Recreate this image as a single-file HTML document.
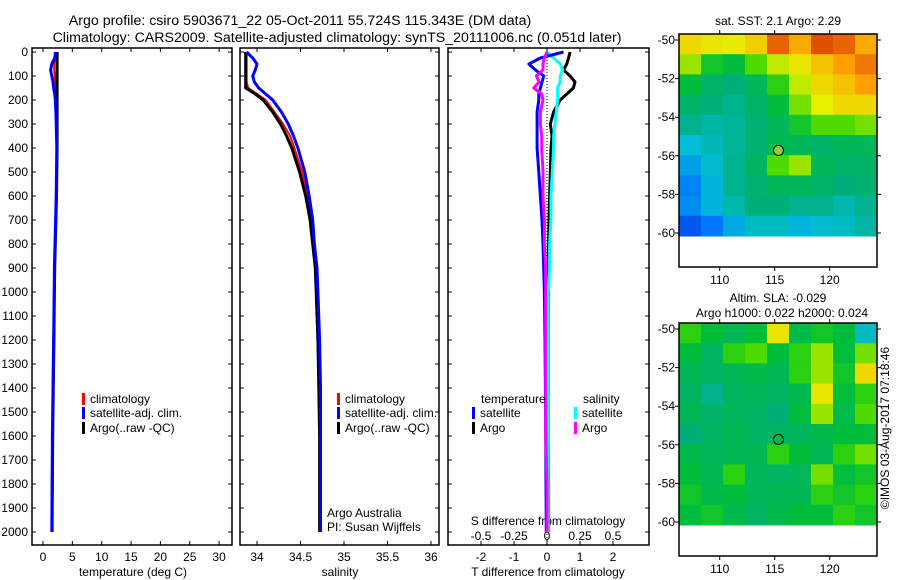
<!DOCTYPE html>
<html><head><meta charset="utf-8"><style>
html,body{margin:0;padding:0;background:#fff;}
svg{display:block;font-family:"Liberation Sans",sans-serif;}
</style></head><body>
<svg id="fig" xmlns="http://www.w3.org/2000/svg" width="900" height="580" viewBox="0 0 900 580">
<text x="300" y="25" font-size="14.2" text-anchor="middle">Argo profile: csiro 5903671_22 05-Oct-2011 55.724S 115.343E (DM data)</text>
<text x="337" y="42" font-size="14.2" text-anchor="middle">Climatology: CARS2009. Satellite-adjusted climatology: synTS_20111006.nc (0.051d later)</text>
<text x="778" y="25" font-size="12" text-anchor="middle">sat. SST: 2.1 Argo: 2.29</text>
<text x="778" y="302" font-size="12" text-anchor="middle">Altim. SLA: -0.029</text>
<text x="782" y="317" font-size="12" text-anchor="middle">Argo h1000: 0.022 h2000: 0.024</text>
<text x="0" y="0" font-size="12" text-anchor="middle" transform="translate(889,428) rotate(-90)">©IMOS 03-Aug-2017 07:18:46</text>
<text x="133" y="576" font-size="12" text-anchor="middle">temperature (deg C)</text>
<text x="340" y="576" font-size="12" text-anchor="middle">salinity</text>
<text x="548" y="576" font-size="12" text-anchor="middle">T difference from climatology</text>
<text x="548" y="525" font-size="12" text-anchor="middle">S difference from climatology</text>
<text x="327" y="517" font-size="12">Argo Australia</text>
<text x="327" y="531" font-size="12">PI: Susan Wijffels</text>
</svg>
<script>
// ---- data ----
const depths=[0,25,50,75,100,125,150,175,200,250,300,350,400,500,600,700,800,900,1000,1200,1400,1600,1800,2000];
const tempClim=[2.0,2.0,1.9,1.9,2.0,2.1,2.2,2.2,2.3,2.3,2.3,2.35,2.4,2.35,2.3,2.2,2.1,2.0,1.95,1.85,1.75,1.65,1.55,1.5];
const tempSat=[2.2,2.0,1.5,1.3,1.5,1.7,1.8,2.0,2.1,2.2,2.25,2.3,2.35,2.3,2.25,2.15,2.05,1.95,1.9,1.8,1.7,1.6,1.55,1.5];
const tempArgo=[2.4,2.4,2.4,2.4,2.4,2.4,2.4,2.4,2.4,2.4,2.4,2.4,2.4,2.35,2.3,2.2,2.1,2.0,1.95,1.85,1.75,1.65,1.6,1.55];
const salClim=[33.88,33.88,33.88,33.88,33.88,33.88,33.9,34.0,34.1,34.2,34.3,34.38,34.43,34.52,34.58,34.62,34.65,34.68,34.69,34.71,34.72,34.72,34.72,34.72];
const salSat=[33.88,33.95,34.0,33.98,33.95,33.97,34.02,34.1,34.18,34.28,34.36,34.42,34.47,34.55,34.6,34.64,34.66,34.69,34.7,34.72,34.73,34.73,34.73,34.73];
const salArgo=[33.87,33.87,33.87,33.87,33.87,33.87,33.87,33.98,34.07,34.18,34.27,34.34,34.4,34.49,34.56,34.61,34.64,34.67,34.68,34.7,34.71,34.72,34.72,34.72];
const tDiffSat=[0.5,-0.2,-0.55,-0.35,-0.1,-0.15,-0.2,-0.25,-0.25,-0.3,-0.3,-0.3,-0.3,-0.25,-0.2,-0.15,-0.12,-0.1,-0.08,-0.06,-0.05,-0.04,-0.03,-0.02];
const tDiffArgo=[0.7,0.65,0.6,0.5,0.7,0.85,0.8,0.6,0.4,0.2,0.1,0.15,0.12,0.1,0.08,0.06,0.05,0.05,0.05,0.04,0.04,0.04,0.05,0.05];
const sDiffSat=[0.0,0.05,0.1,0.12,0.1,0.1,0.08,0.08,0.08,0.07,0.06,0.05,0.05,0.04,0.03,0.03,0.02,0.02,0.01,0.01,0.01,0.01,0.01,0.01];
const sDiffArgo=[0.0,-0.02,-0.03,-0.03,-0.08,-0.06,-0.1,-0.04,-0.03,-0.05,-0.05,-0.04,-0.04,-0.03,-0.03,-0.02,-0.02,-0.01,-0.01,-0.01,-0.01,-0.01,0,0];
const depthTicks=[0,100,200,300,400,500,600,700,800,900,1000,1100,1200,1300,1400,1500,1600,1700,1800,1900,2000];
const tempTicks=[0,5,10,15,20,25,30];
const salTicks=[34,34.5,35,35.5,36];
const salTickLabels=["34","34.5","35","35.5","36"];
const tDiffTicks=[-2,-1,0,1,2];
const sDiffTicks=[-0.5,-0.25,0,0.25,0.5];
const sDiffTickLabels=["-0.5","-0.25","0","0.25","0.5"];
const lonTicks=[110,115,120];
const latTicks=[-50,-52,-54,-56,-58,-60];
const argoLon=115.34, argoLat=-55.72;
const sstGrid=[
[0.70,0.68,0.67,0.72,0.86,0.78,0.88,0.86,0.78],
[0.62,0.52,0.50,0.58,0.64,0.68,0.74,0.80,0.84],
[0.50,0.44,0.42,0.46,0.55,0.64,0.70,0.74,0.80],
[0.44,0.42,0.40,0.44,0.50,0.60,0.66,0.70,0.70],
[0.40,0.38,0.39,0.43,0.46,0.52,0.58,0.58,0.60],
[0.33,0.36,0.39,0.43,0.47,0.46,0.44,0.46,0.46],
[0.30,0.34,0.40,0.45,0.58,0.62,0.46,0.44,0.44],
[0.27,0.32,0.40,0.43,0.46,0.46,0.44,0.42,0.43],
[0.28,0.32,0.37,0.42,0.42,0.40,0.40,0.37,0.40],
[0.20,0.26,0.31,0.35,0.35,0.32,0.34,0.35,0.38]];
const slaGrid=[
[0.55,0.50,0.47,0.50,0.68,0.48,0.52,0.50,0.35],
[0.50,0.45,0.55,0.58,0.50,0.55,0.62,0.50,0.60],
[0.47,0.45,0.47,0.48,0.47,0.55,0.62,0.52,0.70],
[0.45,0.40,0.45,0.46,0.45,0.48,0.68,0.50,0.55],
[0.47,0.44,0.46,0.45,0.42,0.50,0.62,0.48,0.58],
[0.42,0.45,0.47,0.45,0.45,0.46,0.48,0.50,0.50],
[0.48,0.46,0.47,0.47,0.55,0.50,0.47,0.55,0.60],
[0.50,0.47,0.55,0.46,0.45,0.46,0.60,0.50,0.52],
[0.52,0.48,0.50,0.46,0.47,0.47,0.55,0.52,0.55],
[0.50,0.52,0.48,0.45,0.48,0.50,0.50,0.55,0.52]];

const NS='http://www.w3.org/2000/svg';
const svg=document.getElementById('fig');
function mk(tag,attrs){const e=document.createElementNS(NS,tag);for(const k in attrs)e.setAttribute(k,attrs[k]);svg.appendChild(e);return e;}

// ---- axes ----
const yD=d=>52+d*0.24;
const PY0=48,PY1=545;
const panels=[{x0:32,x1:232},{x0:240,x1:439},{x0:448,x1:649}];
const xT=v=>43+v*5.87;
const xS=v=>257+(v-34)*87;
const xTD=v=>547+v*33;
const xSD=v=>547+v*132;

panels.forEach((p,i)=>{
  const r=mk('rect',{x:p.x0,y:PY0,width:p.x1-p.x0,height:PY1-PY0,fill:'none',stroke:'#000','stroke-width':1.5});
  
  
  depthTicks.forEach(d=>{
    const y=yD(d);
    const t=mk('path',{d:`M${p.x0},${y}h4M${p.x1},${y}h-4`,stroke:'#000','stroke-width':1});
    
    
  });
});
depthTicks.forEach(d=>{
  const t=mk('text',{x:28,y:yD(d)+4,'font-size':12,'text-anchor':'end'});
  t.textContent=d;
  
  
});
function xTicks(ticks,labels,fx,p,ly,top){
  ticks.forEach((v,i)=>{
    const x=fx(v);
    const t=mk('path',{d:`M${x},${PY1}v-4`+(top?`M${x},${PY0}v4`:''),stroke:'#000','stroke-width':1});
    
    
    const l=mk('text',{x:x,y:ly,'font-size':12,'text-anchor':'middle'});
    l.textContent=labels[i];
    
    
  });
}
xTicks(tempTicks,tempTicks.map(String),xT,panels[0],561,true);
xTicks(salTicks,salTickLabels,xS,panels[1],561,true);
xTicks(tDiffTicks,tDiffTicks.map(String),xTD,panels[2],561,false);
sDiffTicks.forEach((v,i)=>{
  const x=xSD(v);
  const t=mk('path',{d:`M${x},${PY0}v4M${x},${PY1}v-4`,stroke:'#000','stroke-width':1});
  
  
  const l=mk('text',{x:x,y:540,'font-size':12,'text-anchor':'middle'});
  l.textContent=sDiffTickLabels[i];
  
  
});
const zl=mk('line',{x1:xTD(0),x2:xTD(0),y1:PY0,y2:PY1,stroke:'#000','stroke-width':1,'stroke-dasharray':'1,2'});



// ---- series ----
function line(vals,fx,color,w,name){
  const pts=vals.map((v,i)=>fx(v).toFixed(1)+','+yD(depths[i]).toFixed(1)).join(' ');
  const e=mk('polyline',{points:pts,fill:'none',stroke:color,'stroke-width':w,'stroke-linejoin':'round'});
  
  
}
line(tempClim,xT,'#f00',2,'temp-climatology-line');
line(tempArgo,xT,'#000',3,'temp-argo-line');
line(tempSat,xT,'#00f',3,'temp-satellite-line');
line(salClim,xS,'#f00',2,'sal-climatology-line');
line(salArgo,xS,'#000',3,'sal-argo-line');
line(salSat,xS,'#00f',3,'sal-satellite-line');
line(tDiffArgo,xTD,'#000',3,'tdiff-argo-line');
line(sDiffSat,xSD,'#0ff',3,'sdiff-satellite-line');
line(tDiffSat,xTD,'#00f',3,'tdiff-satellite-line');
line(sDiffArgo,xSD,'#f0f',3,'sdiff-argo-line');

// ---- legends ----
function legend(x,y,color,label,name){
  const b=mk('rect',{x:x,y:y-10,width:3,height:12,fill:color});
  
  
  const t=mk('text',{x:x+8,y:y,'font-size':12});
  t.textContent=label;
  
  
}
[[82,'temp'],[337,'sal']].forEach(([x,n])=>{
  legend(x,403,'#f00','climatology',n+'-legend-climatology');
  legend(x,417,'#00f','satellite-adj. clim.',n+'-legend-satellite');
  legend(x,432,'#000','Argo(..raw -QC)',n+'-legend-argo');
});
const lt=mk('text',{x:481,y:403,'font-size':12});
lt.textContent='temperature';


const ls=mk('text',{x:583,y:403,'font-size':12});
ls.textContent='salinity';


legend(472,417,'#00f','satellite','diff-legend-t-satellite');
legend(472,432,'#000','Argo','diff-legend-t-argo');
legend(574,417,'#0ff','satellite','diff-legend-s-satellite');
legend(574,432,'#f0f','Argo','diff-legend-s-argo');

// ---- maps ----
const stops=[[0,[0,0,170]],[0.25,[0,110,255]],[0.33,[0,190,215]],[0.42,[0,175,120]],[0.5,[0,190,60]],[0.57,[60,215,0]],[0.66,[230,240,0]],[0.8,[255,160,0]],[0.9,[215,60,0]],[1,[150,0,0]]];
function cmap(v){
  for(let i=1;i<stops.length;i++){if(v<=stops[i][0]){const a=stops[i-1],b=stops[i],f=(v-a[0])/(b[0]-a[0]);
    return 'rgb('+a[1].map((c,k)=>Math.round(c+(b[1][k]-c)*f)).join(',')+')';}}
  return 'rgb(150,0,0)';
}
function drawMap(grid,top,name,mfill){
  const X0=679,X1=877,lon0=106.3,lon1=124.3;
  const xL=l=>X0+(l-lon0)*(X1-X0)/(lon1-lon0);
  const yL=l=>top+6+(-50-l)*19.3;
  const dataTop=top, dataBot=yL(-60)+3;
  const rows=grid.length, cols=grid[0].length;
  const cw=(X1-X0)/cols, ch=(dataBot-dataTop)/rows;
  grid.forEach((row,r)=>row.forEach((v,c)=>{
    const e=mk('rect',{x:X0+c*cw,y:dataTop+r*ch,width:cw+0.5,height:ch+0.5,fill:cmap(v)});
    
    
  }));
  const f=mk('rect',{x:X0,y:top,width:X1-X0,height:233,fill:'none',stroke:'#000','stroke-width':1.5});
  
  
  latTicks.forEach(l=>{
    const y=yL(l);
    const t=mk('path',{d:`M${X0},${y}h-4M${X1},${y}h4`,stroke:'#000','stroke-width':1});
    
    
    const tx=mk('text',{x:675,y:y+4,'font-size':12,'text-anchor':'end'});
    tx.textContent=l;
    
    
  });
  lonTicks.forEach(l=>{
    const x=xL(l);
    const t=mk('path',{d:`M${x},${top}v-4M${x},${top+233}v4`,stroke:'#000','stroke-width':1});
    
    
    const tx=mk('text',{x:x,y:top+250,'font-size':12,'text-anchor':'middle'});
    tx.textContent=l;
    
    
  });
  const m=mk('circle',{cx:xL(argoLon),cy:yL(argoLat),r:5,fill:mfill,stroke:'#000','stroke-width':1});
  
  
}
drawMap(sstGrid,34,'sst-map','#9c3');
drawMap(slaGrid,323,'sla-map','#0b4');
</script>
</body></html>
